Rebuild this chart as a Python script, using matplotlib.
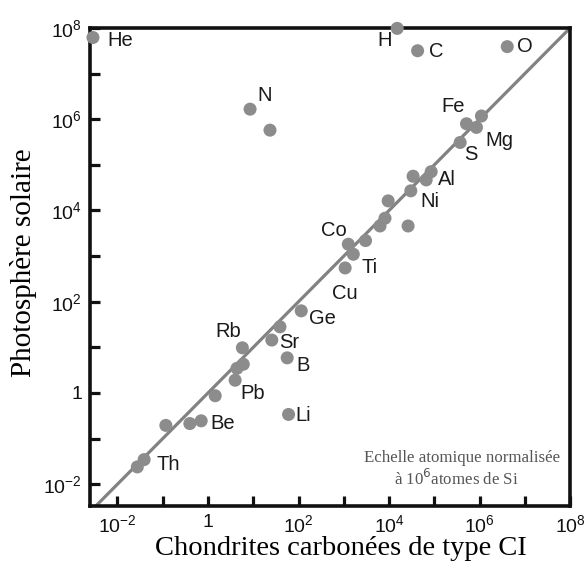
import numpy as np
import matplotlib
matplotlib.use("Agg")
import matplotlib.pyplot as plt
from matplotlib.ticker import FixedLocator, FuncFormatter, NullLocator

plt.rcParams["font.family"] = ["Liberation Sans", "DejaVu Sans"]

# log10 abundances (CI chondrites vs solar photosphere)
elements = ["He", "N", "", "H", "C", "O", "Fe", "", "Mg", "S", "", "", "Al",
            "Ni", "", "", "", "", "", "Co", "Ti", "Cu", "Ge", "", "Sr", "B",
            "Rb", "", "", "Pb", "", "Li", "", "", "Be", "Th", ""]
log_ci = [-2.54, 0.93, 1.37, 4.18, 4.63, 6.61, 5.71, 6.04, 5.93, 5.57, 4.53,
          4.93, 4.82, 4.48, 3.98, 3.91, 3.80, 4.42, 3.48, 3.10, 3.21, 3.03,
          2.06, 1.59, 1.41, 1.75, 0.76, 0.78, 0.64, 0.60, 0.16, 1.78, -0.93,
          -0.40, -0.15, -1.41, -1.56]
log_sun = [7.79, 6.22, 5.76, 7.99, 7.50, 7.59, 5.90, 6.07, 5.82, 5.49, 4.75,
           4.85, 4.67, 4.43, 4.21, 3.83, 3.66, 3.66, 3.34, 3.26, 3.04, 2.74,
           1.80, 1.45, 1.16, 0.77, 0.99, 0.63, 0.54, 0.28, -0.06, -0.47, -0.71,
           -0.67, -0.61, -1.46, -1.62]

# label offsets in pixels (text centre relative to the point)
offsets = {"He": (27, -3), "N": (15, 14), "H": (-13, -12), "C": (19, -1),
           "O": (18, 0), "Fe": (-13, 17), "Mg": (23, -13), "S": (11, -12),
           "Al": (21, 0), "Ni": (19, -11), "Co": (-14, 14), "Ti": (16, -13),
           "Cu": (0, -26), "Ge": (21, -8), "Sr": (17, -2), "B": (16, -8),
           "Li": (15, -1), "Rb": (-14, 16), "Pb": (18, -13), "Be": (22, -3),
           "Th": (24, -5)}

x = 10.0 ** np.array(log_ci)
y = 10.0 ** np.array(log_sun)

fig = plt.figure(figsize=(5.86, 5.70), dpi=100)
ax = fig.add_axes([0.154, 0.112, 0.819, 0.839])

ax.plot([1e-3, 1e9], [1e-3, 1e9], color="#828282", linewidth=2.3, zorder=2)
ax.scatter(x, y, s=88, color="#8c8c8c", edgecolors="none", zorder=3,
           clip_on=False)

for name, xi, yi in zip(elements, x, y):
    if name:
        ax.annotate(name, (xi, yi), xytext=offsets[name],
                    textcoords="offset pixels", ha="center", va="center",
                    fontsize=14.5, color="#1a1a1a")

ax.set_xscale("log")
ax.set_yscale("log")
ax.set_xlim(10 ** -2.60, 1e8)
ax.set_ylim(10 ** -2.48, 1e8)


def fmt(v, pos):
    p = int(round(np.log10(v)))
    if p % 2:
        return ""
    if p == 0:
        return "1"
    return r"$\mathregular{10^{%d}}$" % p


ax.xaxis.set_major_locator(FixedLocator([10.0 ** k for k in range(-2, 9)]))
ax.yaxis.set_major_locator(FixedLocator([10.0 ** k for k in range(-2, 9)]))
ax.xaxis.set_minor_locator(NullLocator())
ax.yaxis.set_minor_locator(NullLocator())
ax.xaxis.set_major_formatter(FuncFormatter(fmt))
ax.yaxis.set_major_formatter(FuncFormatter(fmt))
ax.tick_params(direction="in", length=7, width=2.3, pad=6, labelsize=14,
               colors="#111111")

for s in ax.spines.values():
    s.set_linewidth(2.6)
    s.set_color("#111111")

ax.set_xlabel("Chondrites carbonées de type CI", family="Liberation Serif",
              fontsize=20.5)
ax.set_ylabel("Photosphère solaire", family="Liberation Serif", fontsize=21)
ax.xaxis.set_label_coords(0.522, -0.063, transform=ax.transAxes)
ax.xaxis.get_label().set_va("top")
ax.yaxis.set_label_coords(-0.11, 0.51, transform=ax.transAxes)

ax.text(0.775, 0.10, "Echelle atomique normalisée", transform=ax.transAxes,
        ha="center", va="center", family="Liberation Serif", fontsize=12.2,
        color="#555555")
ax.text(0.762, 0.056, r"à 10$^{6}$atomes de Si", transform=ax.transAxes,
        ha="center", va="center", family="Liberation Serif", fontsize=12.2,
        color="#555555")

fig.savefig("out.png", dpi=100)
